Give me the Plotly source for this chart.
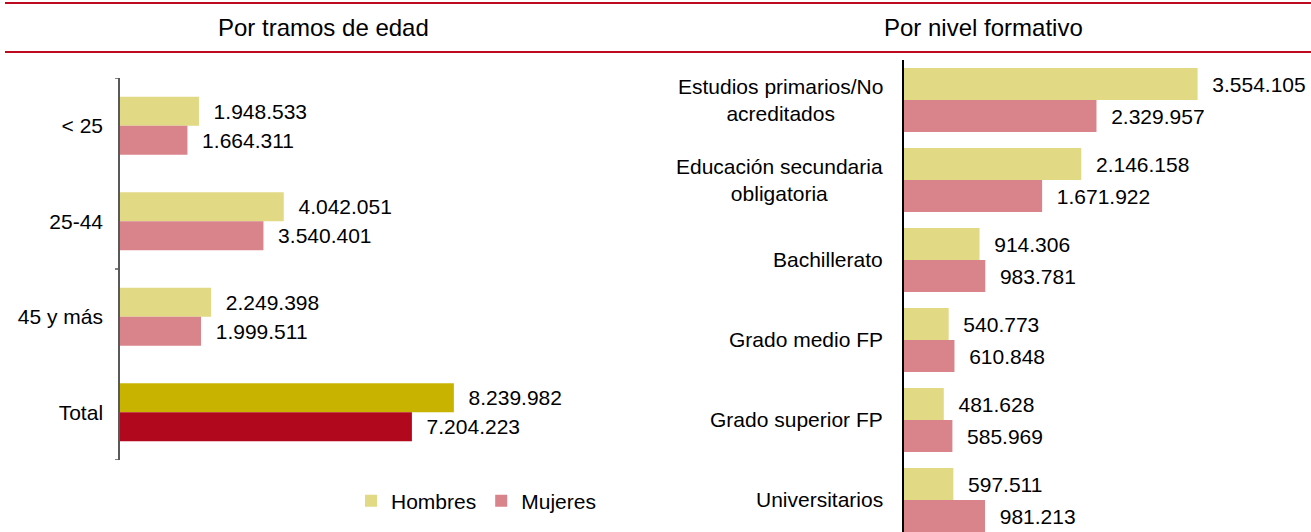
import plotly.graph_objects as go

# Por tramos de edad
edad_cats = ["< 25", "25-44", "45 y más", "Total"]
edad_hombres = [1948533, 4042051, 2249398, 8239982]
edad_mujeres = [1664311, 3540401, 1999511, 7204223]

# Por nivel formativo
nivel_cats = [
    "Estudios primarios/No<br>acreditados",
    "Educación secundaria<br>obligatoria",
    "Bachillerato",
    "Grado medio FP",
    "Grado superior FP",
    "Universitarios",
]
nivel_hombres = [3554105, 2146158, 914306, 540773, 481628, 597511]
nivel_mujeres = [2329957, 1671922, 983781, 610848, 585969, 981213]

titles = ["Por tramos de edad", "Por nivel formativo"]

W, H = 1311, 532
FONT = "Liberation Sans, Arial, sans-serif"
HOMBRES = "#E2D984"
MUJERES = "#D9838A"
HOMBRES_TOT = "#C8B400"
MUJERES_TOT = "#B2081D"
RED = "#BE0A1E"
PAD = "\u00a0\u00a0"


def px_x(v):
    return v / W


def px_y(v):
    return 1 - v / H


def fmt(v):
    # Spanish thousands separator
    return PAD + f"{v:,}".replace(",", ".")


fig = go.Figure()

bar_common = dict(orientation="h", textposition="outside", cliponaxis=False,
                  constraintext="none", textfont=dict(size=21, color="black"),
                  marker_line_width=0)

# left panel
w_left = 0.304
fig.add_trace(go.Bar(
    y=edad_cats, x=edad_hombres, name="Hombres",
    marker_color=[HOMBRES_TOT if c == "Total" else HOMBRES for c in edad_cats],
    width=w_left, offset=-w_left, text=[fmt(v) for v in edad_hombres],
    xaxis="x", yaxis="y", **bar_common))
fig.add_trace(go.Bar(
    y=edad_cats, x=edad_mujeres, name="Mujeres",
    marker_color=[MUJERES_TOT if c == "Total" else MUJERES for c in edad_cats],
    width=w_left, offset=0, text=[fmt(v) for v in edad_mujeres],
    xaxis="x", yaxis="y", **bar_common))

# right panel
w_right = 0.4
fig.add_trace(go.Bar(
    y=nivel_cats, x=nivel_hombres, name="Hombres", showlegend=False,
    marker_color=HOMBRES, width=w_right, offset=-w_right,
    text=[fmt(v) for v in nivel_hombres], xaxis="x2", yaxis="y2", **bar_common))
fig.add_trace(go.Bar(
    y=nivel_cats, x=nivel_mujeres, name="Mujeres", showlegend=False,
    marker_color=MUJERES, width=w_right, offset=0,
    text=[fmt(v) for v in nivel_mujeres], xaxis="x2", yaxis="y2", **bar_common))

hidden_x = dict(showgrid=False, zeroline=False, showticklabels=False, showline=False, ticks="")

annotations = []
for t, cx in zip(titles, [323, 983]):
    annotations.append(dict(text=t, x=px_x(cx), y=px_y(28), xref="paper", yref="paper",
                            xanchor="center", yanchor="middle", showarrow=False,
                            font=dict(size=24, color="black")))
for c in nivel_cats:
    annotations.append(dict(text=c, x=px_x(885), y=c, xref="paper", yref="y2",
                            xanchor="right", yanchor="middle", align="center",
                            showarrow=False, font=dict(size=21, color="black")))

shapes = []
for yy in [3, 52]:
    shapes.append(dict(type="line", xref="paper", yref="paper", x0=px_x(5), x1=1,
                       y0=px_y(yy), y1=px_y(yy), line=dict(color=RED, width=2)))
# Excel-style ticks every second category boundary
for b in [-0.5, 1.5, 3.5]:
    shapes.append(dict(type="line", xref="paper", yref="y", x0=px_x(115), x1=px_x(120),
                       y0=b, y1=b, line=dict(color="#595959", width=1.5)))

fig.update_layout(
    width=W, height=H,
    margin=dict(l=0, r=0, t=0, b=0),
    paper_bgcolor="white", plot_bgcolor="white",
    font=dict(family=FONT, size=21, color="black"),
    barmode="overlay",
    xaxis=dict(domain=[px_x(120), px_x(620)], range=[0, 12.34e6], anchor="y", **hidden_x),
    yaxis=dict(domain=[px_y(460), px_y(78)], anchor="x", type="category",
               range=[3.5, -0.5], showgrid=False, zeroline=False, ticks="",
               showline=True, linecolor="#595959", linewidth=1.5,
               tickfont=dict(size=21), ticklabelstandoff=11),
    xaxis2=dict(domain=[px_x(904), 1], range=[0, 4.927e6], anchor="y2", **hidden_x),
    yaxis2=dict(domain=[0, px_y(60)], anchor="x2", type="category",
                range=[5.4, -0.5], showgrid=False, zeroline=False, ticks="",
                showline=True, linecolor="black", linewidth=1.5,
                showticklabels=False),
    legend=dict(orientation="h", x=px_x(351), xanchor="left", y=px_y(501),
                yanchor="middle", font=dict(size=21), bgcolor="rgba(0,0,0,0)",
                traceorder="normal"),
    annotations=annotations,
    shapes=shapes,
)

# drop the browser's default body margin so the figure sits at the page corner
fig.write_html("out.html", config={"displayModeBar": False},
               post_script="document.body.style.margin = '0px';")
